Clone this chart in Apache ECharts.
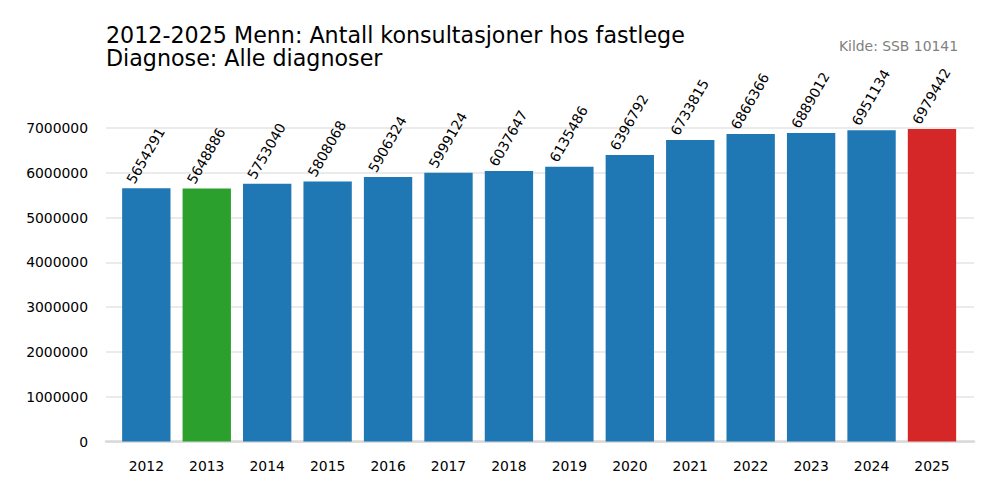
<!DOCTYPE html>
<html>
<head>
<meta charset="utf-8">
<script src="https://cdn.jsdelivr.net/npm/echarts@6/dist/echarts.min.js"></script>
<style>
  html, body { margin: 0; padding: 0; background: #fff; }
  #chart { width: 1000px; height: 500px; }
</style>
</head>
<body>
<div id="chart"></div>
<script>
var years = ['2012', '2013', '2014', '2015', '2016', '2017', '2018', '2019', '2020', '2021', '2022', '2023', '2024', '2025'];
var consultations = [5654291, 5648886, 5753040, 5808068, 5906324, 5999124, 6037647, 6135486, 6396792, 6733815, 6866366, 6889012, 6951134, 6979442];
var yTicks = [0, 7000000, 1000000]; // min, max, step

(function() {
  var font = 'DejaVu Sans';
  var blue = '#1f77b4', green = '#2ca02c', red = '#d62728';
  var titleStyle = { fontFamily: font, fontSize: 22.2, fontWeight: 'normal', color: '#000', lineHeight: 22 };

  // lowest year green, latest year red
  var minVal = Math.min.apply(null, consultations);
  var barData = consultations.map(function(v, i) {
    var c = blue;
    if (i === consultations.length - 1) c = red;
    else if (v === minVal) c = green;
    return { value: v, itemStyle: { color: c } };
  });

  var chart = echarts.init(document.getElementById('chart'), null, { renderer: 'svg' });
  chart.setOption({
    animation: false,
    textStyle: { fontFamily: font },
    title: [
      { text: '2012-2025 Menn: Antall konsultasjoner hos fastlege', left: 106, top: 24, padding: 0, textStyle: titleStyle },
      { text: 'Diagnose: Alle diagnoser', left: 106, top: 47, padding: 0, textStyle: titleStyle },
      {
        text: 'Kilde: SSB 10141',
        right: 42, top: 39, padding: 0,
        textStyle: { fontFamily: font, fontSize: 13.9, fontWeight: 'normal', color: '#808080' }
      }
    ],
    grid: [
      { left: 106, right: 26, top: 128, bottom: 58.5 },
      { left: 116.1, right: 37.8, top: 128, bottom: 58.5 }
    ],
    xAxis: [
      {
        gridIndex: 0, type: 'value', min: 0, max: 1,
        axisLine: { show: true, lineStyle: { color: '#d9d9d9', width: 2.5 } },
        axisTick: { show: false }, axisLabel: { show: false }, splitLine: { show: false }
      },
      {
        gridIndex: 1, type: 'category', data: years,
        axisLine: { show: false }, axisTick: { show: false },
        axisLabel: { color: '#000', fontSize: 13.9, fontFamily: font, margin: 17 }
      }
    ],
    yAxis: [
      {
        gridIndex: 0, type: 'value', min: yTicks[0], max: yTicks[1], interval: yTicks[2],
        axisLine: { show: false }, axisTick: { show: false },
        axisLabel: {
          color: '#000', fontSize: 13.9, fontFamily: font, margin: 18,
          formatter: function(v) { return String(v); }
        },
        splitLine: { lineStyle: { color: '#ebebeb', width: 2 } }
      },
      {
        gridIndex: 1, type: 'value', min: yTicks[0], max: yTicks[1], show: false
      }
    ],
    series: [{
      type: 'bar', xAxisIndex: 1, yAxisIndex: 1,
      barWidth: '80%',
      data: barData,
      label: {
        show: true, position: 'top', distance: 0,
        rotate: 60, align: 'center', verticalAlign: 'middle',
        offset: [28, -17],
        color: '#000', fontSize: 13.9, fontFamily: font
      }
    }]
  });
})();
</script>
</body>
</html>
